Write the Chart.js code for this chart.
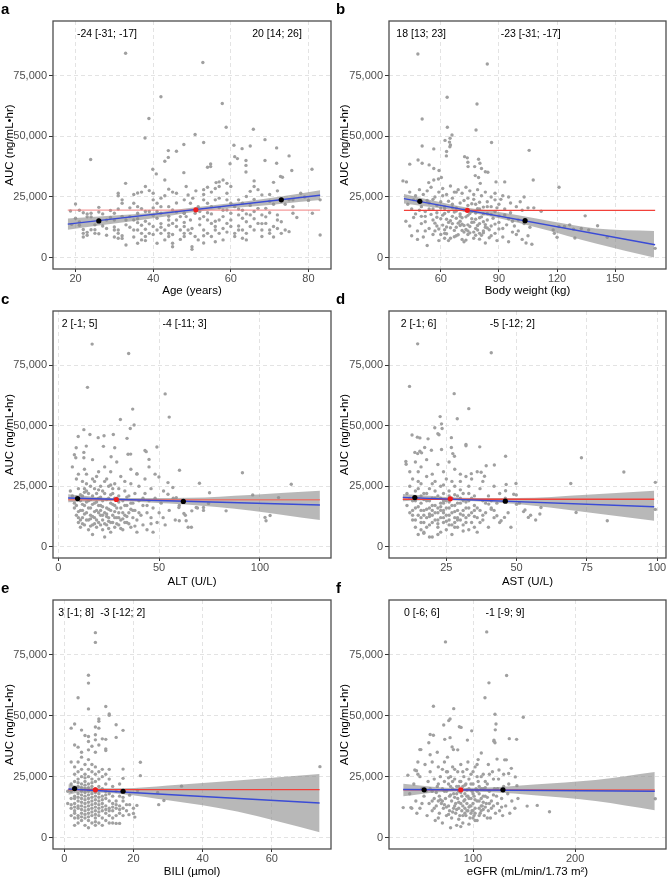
<!DOCTYPE html>
<html>
<head>
<meta charset="utf-8">
<script src="https://cdn.jsdelivr.net/npm/chart.js@4.4.1/dist/chart.umd.min.js"></script>
<style>
  body { margin: 0; background: #fff; }
  #page { position: relative; width: 670px; height: 879px; overflow: hidden; }
  #page canvas { position: absolute; }
</style>
</head>
<body>
<div id="page">
  <canvas id="pa" width="335" height="305" style="left:0;top:0"></canvas>
  <canvas id="pb" width="335" height="305" style="left:335px;top:0"></canvas>
  <canvas id="pc" width="335" height="305" style="left:0;top:290px"></canvas>
  <canvas id="pd" width="335" height="305" style="left:335px;top:290px"></canvas>
  <canvas id="pe" width="335" height="300" style="left:0;top:579px"></canvas>
  <canvas id="pf" width="335" height="300" style="left:335px;top:579px"></canvas>
</div>
<script>
// AUC values are in thousands of ng/mL*hr (the y axis labels multiply back)
const yTicksK = [0, 25, 50, 75];

// ---- a : age
const ageTicks = [20, 40, 60, 80];
const agePoints = [
  [32.9,84.2],[52.8,80.4],[42,66.3],[57.8,63.5],[38.9,57.3],[58.8,53.7],[65.8,52.9],[50.8,50.7],[37.9,49.3],[68.8,48.6],
  [53,47.4],[47.9,46.6],[23.9,40.4],[60.8,46.3],[65,46],[71.8,45.2],[62.9,44.9],[43.9,44.1],[43.9,41.3],[46,43.8],
  [61,41.6],[61.7,40.8],[75,41.9],[43,39.7],[54.8,38.6],[54.8,37.5],[54,37.2],[59.8,38.7],[63.9,40],[68.8,40],
  [71.8,38.9],[63.9,38],[39.9,36.4],[40.8,34.5],[75.7,35.9],[80.9,36.4],[47.9,35],[63.9,35.3],[43,32],[72.8,33.4],
  [73.3,33.1],[32.9,30.6],[56.2,30.9],[57,31.2],[66,31.6],[71,31],
  [18.7,19.2],[20,22.1],[20,16.2],[21,14.7],[21,13.3],[22,18.5],[23,18],[24,18.3],[23,16.8],[24,16.8],
  [22,10],[22,11.6],[23,10.4],[23,9.2],[22,8.5],[25,10],[24,11.5],[25,11.5],[26,20.7],[26,18.8],
  [26,15.5],[27,18],[28,15.5],[28,9.2],[29,19.4],[30,18.3],[30,15.5],[30,11.4],[31,11.4],[31,10],
  [31,26.5],[31,25.5],[32,23.8],[32,22.4],[31,20],[32,17],[33,15.5],[33,5.2],[30,8.5],[31,8],
  [32,9],[32,7.9],[30,12.6],[27,13],[29,16.5],[25,13.5],[19,13.7],[21,19.5],[28,12],[26,9.8],
  [35,26],[36,26.6],[37,27],[35,22.4],[36,21],[37,20.2],[34,16.9],[35,15.5],[36,14.4],[37,13.3],
  [35,11.4],[36,11.4],[37,10],[38,8.7],[39,10],[38,11.7],[36,5.9],[37,7.3],[38,7],[38,29.3],
  [39,27.6],[40,26.5],[40,23.8],[41,22.4],[42,21],[39,19],[40,17.4],[41,16.2],[42,18.3],[39,13.9],
  [40,12.8],[41,11.4],[42,10],[43,11.4],[44,13.3],[41,5.9],[43,7.3],[44,8.7],[45,4.5],[45,5.9],
  [42,24.5],[43,25.5],[44,28.2],[45,27],[46,26.5],[44,21],[45,19.6],[46,18.8],[47,16.9],[48,18.3],
  [44,15.5],[45,14.1],[46,12.8],[47,11.4],[48,10],[48,8.7],[34,12.5],[36,18.3],[38,15],[40,9.5],
  [42,14],[44,17],[46,22.5],
  [48,23.8],[48.5,29.3],[49,25.8],[49.6,22.4],[50.2,24.5],[48,18.3],[48.5,16.9],[49.6,15.5],[50.8,18.3],[51.6,21],
  [48,12.8],[49,11.4],[49.6,10],[50.8,8.7],[51.6,7.3],[50,4.5],[50,3.4],[53,26],[53,28],[54,29],
  [55,27],[56,28.5],[53,23.8],[54,22.4],[55,21],[56,23.8],[53,16.9],[54,15.5],[55,14.1],[56,12.8],
  [57,15.5],[58,16.9],[53,11.4],[54,10],[55,8.7],[56,11.4],[57,10],[58,7.3],[57,29.3],[58,32],
  [59,30.6],[60,29.3],[59,26.5],[59,23.8],[60,22.4],[59,19.6],[60,18.3],[61,21],[59,14.1],[60,12.8],
  [61,10],[61,8.7],[62,11.4],[52,19],[55,18],[57,20.5],[52,13.5],[56,6.5],[53,6],[58,12],
  [62,23.8],[63,22.4],[64,25.2],[65,27.3],[66,29.3],[67,28],[68,25.8],[62,17.6],[63,16.2],[64,14.8],
  [65,17.6],[66,19],[67,20.3],[68,17.6],[62,13],[63,11.4],[64,10],[65,12.8],[66,11.4],[64,7.3],
  [67,14.1],[68,11.4],[69,20.3],[70,23.2],[71,22],[72,17.6],[73,14.8],[74,22],[69,14.1],[70,11.4],
  [71,12.8],[72,15.5],[73,10],[74,11.4],[68,8.7],[70,10],[75,10.7],[75,23.8],[76,23.8],[76,21],
  [76,18.3],[78,26.5],[81,18.3],[83,23.8],[83,9.3],[66,24],[70,26],[72,27.5],[63,19.5],[65,21.5],
  [69,16.8],[77,16.5],[71,8.5],[79,25],[80,23.5],
  [34,20.5],[36,16],[38,19],[40,20.5],[42,12.5],[44,10],[46,15.5],[48,14.5],[50,12],[52,16],
  [54,18.5],[56,15],[58,19.5],[60,15.5],[62,20],[64,18],[66,16],[68,14],[70,18.5],[72,12],
  [45,9.5],[47,7.5],[53,9],[59,10.5],[63,8],[57,24.5],[51,27.5],[41,19],[35,8.5],[33,13.5]
];
const ageFit = [[18,13.8],[83,25.7]];
const ageBandX = [18, 30, 40, 51, 62, 72, 83];
const ageBandLo = [11.5, 14.0, 16.2, 18.9, 20.6, 22.0, 23.7];
const ageBandHi = [16.1, 17.3, 18.5, 20.7, 22.8, 25.0, 27.8];
const ageRef = [[18,19.6],[83,19.6]];
const ageEnds = [[26,15.1],[73,23.8]];
const ageMid = [[51,19.7]];
const ageNotes = ['-24 [-31; -17]', '20 [14; 26]'];
const ageNotesX = [28.1, 71.9];

// ---- b : body weight
const wtTicks = [60, 90, 120, 150];
const wtPoints = [
  [48.2,83.9],[84,79.8],[63.3,66.1],[78.7,63.3],[50.4,57.1],[63.4,53.7],[78.2,52.6],[65.8,50.5],[64.8,49.2],[62.2,48.3],
  [64.5,47.6],[65,46.4],[64.7,45.7],[86.2,47.4],[50.4,46],[56.4,44.8],[105.6,44.2],[63,43.7],[62.9,41.9],[72.3,41.6],
  [73.7,41.1],[74,39.3],[79.5,40.5],[80.2,38.9],[44,38.5],[48.3,40.2],[50.4,38.9],[54,38.2],[74.1,37.5],[77.5,37.5],
  [81,36.7],[56.4,36.7],[59.1,35.9],[83,35.4],[84.3,35.2],[77.8,33.8],[79.5,33],[80.4,30.6],[107.7,32],[40.5,31.6],
  [42.3,31.2],[88.5,31.2],[93,31.2],[121,29],[53.8,30.9],[56.4,32],[58.8,32.4],[60.3,33],
  [44,27],[47,25.5],[49,28],[51,26],[53,27.5],[55,29],[57,25],[59,27],[61,28.5],[63,26],
  [65,29.5],[67,27],[69,28],[71,26.5],[73,29],[75,27.5],[77,26],[79,28],[81,25.5],[83,27],
  [86,25],[88,26.5],[91,24],[95,25],
  [43,22],[45,20],[47,18],[50,21],[52,19],[54,22.5],[56,20],[58,18.5],[60,23],[62,21],
  [64,19],[66,22],[68,20.5],[70,18],[72,23.5],[74,21.5],[76,19],[78,22],[80,20],[82,18],
  [84,23],[86,21],[88,19],[90,22],[93,20],[96,18.5],[99,21],[102,19.5],[105,20.5],
  [42,15],[44,13],[46,16.5],[48,11],[50,14],[52,17],[54,12],[56,15.5],[58,13],[60,16],
  [62,11.5],[64,14.5],[66,17],[68,12.5],[70,15],[72,10.5],[74,13.5],[76,16],[78,12],[80,14],
  [82,11],[84,15.5],[86,13],[88,10],[90,14.5],[92,12],[95,16],[98,13],[100,11],[103,14],[106,12.5],
  [45,9],[48,7.5],[51,8.5],[53,5],[56,9.5],[59,7],[62,10],[65,8],[68,9],[71,7.5],
  [74,9.5],[77,8],[80,10],[83,6],[86,9],[89,7],[92,8.5],[95,6.5],[99,9.5],[102,7.5],
  [105,9],[107,5.5],[104,6],
  [61,17.5],[63,15.8],[65,12.3],[67,18.8],[69,14.2],[71,11.2],[73,16.8],[75,12.8],[77,10.5],[79,13.2],
  [81,16.8],[83,12.5],[85,11.5],[78,9.2],[76,14.5],[72,13.2],[70,22.5],[66,24.5],[62,20.2],[68,19.2],
  [74,24.5],[80,22.8],[82,14.8],[84,18.2],[87,16.2],[58,21.5],[55,17.8],[52,14.8],[49,19.5],[46,23.8],
  [53,23.5],[57,11],[60,9.5],[64,7],[72,6.5],[90,17.2],[94,13.5],[97,10.5],[100,15.5],[96,22.5],
  [92,25.5],[88,23.8],[101,23],[103,25],[108,20.5],
  [57,14.2],[59,11.8],[61,13.4],[63,9.8],[65,15.2],[67,11.2],[69,9.4],[71,13.8],[73,11.6],[75,10.2],
  [77,14.6],[79,11.4],[81,9.2],[83,13.6],[85,8.2],[58,16.6],[60,20.4],[62,18.2],[64,23.2],[66,20.6],
  [68,16.2],[70,13.2],[72,19.6],[74,17.4],[76,22.2],[78,18.4],[80,16.4],[82,20.8],[84,12.2],[86,17.8],
  [63,12.6],[67,8.6],[71,16.4],[75,18.2],[79,20.2],[66,14],[70,17],[74,11],[78,15.8],[82,10.2],
  [54,20],[56,24],[52,11],[50,17],[48,23.5],[88,13.8],[90,11.8],[93,17.6],[61,25.5],[68,27],
  [77,24],[84,21],[73,7.2],[80,7.6],[62,8],[89,20.5],[97,15],
  [111.8,19.1],[118,11.4],[118.6,10],[120,8.4],[121,12.8],[123.8,12.8],[126.5,13.5],[128.5,11.7],[129.2,8.1],[132.5,12],
  [134.5,17.2],[136.3,11.4],[140.9,13.1],[145.9,8.4],[170.6,3.8]
];
const wtFit = [[41,24.3],[170.6,5.3]];
const wtBandX = [41, 60, 74, 90, 110, 140, 170];
const wtBandLo = [22.3, 20.3, 18.7, 16.2, 12.3, 5.8, 0.0];
const wtBandHi = [26.2, 22.8, 20.5, 18.8, 16.0, 12.0, 11.0];
const wtRef = [[41,19.5],[170.6,19.5]];
const wtEnds = [[49.2,23.2],[103.5,15.2]];
const wtMid = [[73.7,19.5]];
const wtNotes = ['18 [13; 23]', '-23 [-31; -17]'];
const wtNotesX = [49.9, 106.4];

// ---- c : ALT
const altTicks = [0, 50, 100];
const altPoints = [
  [16.8,83.8],[34.9,79.9],[14.5,65.9],[53,63.2],[36.9,56.9],[55,53.6],[30.8,52.6],[37.6,50.3],[35.7,48.9],[15.7,46.4],
  [12.7,48.4],[9.9,45.6],[19.8,45.1],[22.7,45.9],[27.3,46.4],[34.1,44.8],[43,39.8],[43.6,39.3],[48.9,41.2],[8.9,40.9],
  [13.9,41.6],[12.7,39],[12.7,36.8],[34.6,38.2],[35.9,38.3],[26.2,37.2],[22.4,41.5],[28,40.9],[45,36.1],[60.1,31.6],
  [91.3,30.6],[115.5,25.8],[70,26.2],[75,22.3],[49.9,28.8],[39,30.2],[8.7,36.8],
  [6,23],[7,21],[8,18],[8,16],[9,28],[9,13],[10,10],[10,24],[11,19],[11,15],
  [11,8],[12,21],[12,12],[12,27],[13,17],[13,9],[14,14],[14,23],[14,30],[15,19],
  [15,11],[15,7],[16,25],[16,16],[16,13],[17,21],[17,9],[17,5],[18,18],[18,27],
  [18,12],[19,15],[19,22],[19,8],[20,20],[20,10],[20,31],[21,13],[21,17],[21,25],
  [22,7],[22,11],[22,19],[23,14],[23,22],[23,4],[24,9],[24,16],[24,28],[25,12],
  [25,20],[25,25],[26,6],[26,15],[26,18],[27,10],[27,22],[27,13],[28,8],[28,17],
  [28,26],[29,12],[29,20],[30,14],[30,9],[30,24],[31,16],[31,11],[31,29],[32,19],
  [32,7],[33,13],[33,23],[34,10],[34,17],[35,21],[35,14],[36,8],[36,26],[37,12],
  [37,18],[38,15],[38,22],[39,6],[39,11],[40,19],[40,25],[41,13],[42,9],[42,17],
  [43,22],[44,14],[44,7],[45,19],[46,12],[46,24],[47,6],[47,16],[48,20],[49,10],
  [50,14],[51,18],[52,12],[53,9],[55,15],[57,20],[58,11],[60,17],[63,13],[66,8],
  [69,16],[72,15],
  [7,33],[8,38],[10,30],[13,32],[17,36],[19,29],[23,33],[26,31],[29,35],[33,27],
  [36,32],[39,30],[43,28],[45,33],[48,30],
  [9,20.5],[10,14.5],[12,17.5],[14,11],[16,19.5],[18,9.5],[20,14],[22,16.5],[24,12.5],[26,21.5],
  [28,14.5],[30,18.5],[32,11.5],[34,20.5],[36,15.5],[13,22.5],[17,12.5],[21,9],[25,7.5],[29,9.5],
  [9,17],[10,12],[11,21.5],[12,9.5],[13,13.5],[14,18.5],[15,16],[16,8.5],[17,17.5],[18,14.5],
  [19,11],[20,17],[21,20.5],[22,13],[23,9.5],[24,19.5],[25,15.5],[26,10],[27,17.5],[28,12],
  [29,16],[30,21],[31,7.5],[32,14],[33,17],[34,12.5],[35,9.5],[36,18],[37,15],[38,8.5],
  [12,15],[15,22],[18,24],[21,15],[24,13.5],[27,24],[30,12],[33,10],[16,11.5],[19,18.5],
  [22,23],[25,10.5],[28,20],[14,26],[17,28],[20,23.5],[23,27],[26,25.5],[11,11],[13,24],
  [40,14],[42,20],[44,17],[46,9.5],
  [54.4,26.5],[56.8,24.5],[52.2,23],[54.4,21.7],[58.5,20.3],[59.8,16.2],[62.3,13.7],[63.4,10.7],[60,10.7],[64.4,8],
  [66.2,14.8],[68.4,16.2],[72,16.2],[74.5,17.9],[83.2,14.8],[96.4,21.4],[102.5,12.1],[103,10.7],[105,12.9],[109.2,20.3]
];
const altFit = [[4.9,20.1],[129.7,17.2]];
const altBandX = [4.9, 15, 29, 45, 65, 95, 129.7];
const altBandLo = [18.4, 18.7, 18.9, 18.3, 17.3, 15.0, 11.0];
const altBandHi = [21.7, 20.9, 20.1, 20.1, 20.2, 21.4, 23.1];
const altRef = [[4.9,19.4],[129.7,19.4]];
const altEnds = [[9.6,19.9],[62,18.7]];
const altMid = [[28.8,19.5]];
const altNotes = ['2 [-1; 5]', '-4 [-11; 3]'];
const altNotesX = [10.6, 62.6];

// ---- d : AST
const astTicks = [25, 50, 75, 100];
const astPoints = [
  [14.8,83.9],[41,80.2],[11.9,66.3],[27.8,63.3],[33,57.1],[28.9,52.9],[22.8,53.8],[23.3,50.8],[20.9,49.2],[23.5,48.9],
  [22,46.7],[22.4,46.3],[12.8,46.2],[14.7,45.3],[26.8,45.1],[18.5,44.6],[15.6,45],[36.9,41.3],[32,42.3],[32,41.7],
  [46.1,37.4],[73.1,36.8],[88.2,30.9],[99.4,26.6],[69.3,26.1],[71.2,14.1],[82.3,10.7],[99.4,15.4],
  [10.6,35.2],[10.7,34.1],[13.8,39],[14.8,38.5],[15.6,39.5],[16.2,38.8],[17.3,41],[19.7,39.9],[23.3,40.2],[26.8,41],
  [27.3,38.5],[27.9,37.4],[37.4,30.8],[38.6,29.1],[33.9,30.2],[39.2,33.5],[42.1,33.8],
  [11,22],[11,17],[12,14],[12,25],[13,19],[13,11],[13,28],[14,16],[14,8],[14,23],
  [15,13],[15,20],[15,31],[16,18],[16,10],[16,26],[17,15],[17,6],[17,22],[18,12],
  [18,19],[18,29],[19,9],[19,16],[19,24],[20,13],[20,20],[20,4],[21,11],[21,17],
  [21,27],[22,8],[22,14],[22,21],[23,12],[23,18],[23,25],[24,10],[24,15],[24,22],
  [25,7],[25,13],[25,19],[25,28],[26,11],[26,16],[26,23],[27,9],[27,14],[27,20],
  [28,12],[28,17],[28,25],[29,8],[29,15],[29,21],[30,11],[30,18],[30,27],[31,13],
  [31,9],[31,22],[32,16],[32,12],[33,19],[33,7],[33,25],[34,14],[34,10],[35,17],
  [35,21],[36,12],[36,6],[37,15],[37,24],[38,11],[38,19],[39,14],[40,8],[40,21],
  [41,16],[42,12],[42,25],[43,18],[44,10],[44,22],
  [12,31],[14,35],[16,33],[18,36],[20,30],[22,34],[24,31],[26,35],[28,32],[30,30],
  [32,29],[34,28],[36,31],[38,27],[15,5],[17,5.5],[19,4],[23,6],[27,5],
  [12,20],[15,24],[19,19],[23,20],[26,21],[30,20],[24,18],[21,23],[17,13],[29,12],
  [33,16],[13,15],[22,16],[26,13],[20,10],[16,15],[28,10],[14,11],[18,8],[24,12],
  [31,15],[35,8],[39,18],[42,15],
  [14,19],[15,16.5],[16,12],[17,19.5],[18,15.5],[19,12.5],[20,17],[21,14],[22,11],[23,15],
  [24,19],[25,16],[26,9],[27,17],[28,14.5],[29,18],[30,13.5],[31,19],[32,10],[33,13],
  [34,20],[35,12.5],[36,16],[37,10],[21,20],[18,22],[15,27],[20,26],[24,25.5],[27,27],
  [30,23.5],[33,22],[16,21],[19,13.5],[22,9.5],[25,10.5],[28,8],[13,13],[17,10],[23,16.5],
  [26,18.5],[29,11],[32,18.5],[35,15],[38,13],[41,19],[20,15],[24,14],[28,21.5],[16,7],
  [22,5],[31,6.5],
  [49.8,26.1],[46.3,25.7],[46.1,23.1],[49,21.7],[49.9,21.4],[53,15.2],[54.2,12.1],[56.8,11],[58.3,13.5],[58.7,16.2],
  [48,8],[44.5,10.7],[45.7,12.1],[43,12.8],[41,15.5],[40.1,17.6],[51,18],[47,14],[55,13],[46,20],
  [50,17.5],[52.5,14.5]
];
const astFit = [[9.5,20.4],[99,16.5]];
const astBandX = [9.5, 20, 26.4, 35, 50, 75, 99];
const astBandLo = [18.8, 19.3, 19.2, 18.8, 17.6, 14.2, 10.7];
const astBandHi = [21.8, 21.0, 20.4, 20.1, 20.1, 21.5, 23.1];
const astRef = [[9.5,19.6],[99,19.6]];
const astEnds = [[13.8,20.3],[46,18.8]];
const astMid = [[26.4,19.8]];
const astNotes = ['2 [-1; 6]', '-5 [-12; 2]'];
const astNotesX = [15.1, 48.5];

// ---- e : bilirubin
const biliTicks = [0, 20, 40, 60];
const biliPoints = [
  [9,84.1],[9,80.1],[7,66.6],[7,63.4],[4,57.4],[7,52.8],[12,53.8],[13,50.7],[13,50.2],[10,48.7],
  [10,47.7],[10,44.9],[2,44.9],[3,46.6],[5,44.1],[15,46.3],[17,44],[9,45.4],[9,42.2],[11,40.5],
  [12,40.3],[7,41.5],[7,39.4],[8,37.5],[4,37.1],[15,41.1],[12,36.4],[12,35.7],[9,40.1],[6,41.9],
  [22,30.9],[22,25.4],[17,28.1],[17,24.3],[33.9,21.1],[27,18.5],[27.3,13.5],[28.8,15.2],[21.2,19.3],[18.9,17.4],
  [18.9,13.5],[18.7,9.4],[20,9.9],[20.4,8.4],[21,13.2],[73.9,29.1],[16,5.8],[15,5.8],
  [1,14],[1,19],
  [2,9],[2,12],[2,16],[2,19],[2,22],[2,31],[2,13.5],
  [3,5],[3,8],[3,11],[3,14],[3,17],[3,20],[3,23],[3,26],[3,29],[3,38],[3,10],[3,16],
  [4,6],[4,9],[4,12],[4,15],[4,18],[4,21],[4,24],[4,27],[4,31],[4,13],[4,22.5],[4,8],
  [5,7],[5,10],[5,13],[5,16],[5,19],[5,22],[5,25],[5,28],[5,33],[5,35],[5,11.5],[5,20.5],[5,14.5],
  [6,5],[6,8],[6,11],[6,14],[6,17],[6,20],[6,23],[6,26],[6,30],[6,12.5],[6,18.5],[6,9.5],[6,15.5],
  [7,4],[7,7],[7,10],[7,13],[7,16],[7,19],[7,22],[7,25],[7,28],[7,32],[7,36],[7,11.5],[7,17.5],[7,14.5],
  [8,6],[8,9],[8,12],[8,15],[8,18],[8,21],[8,24],[8,27],[8,13.5],[8,10.5],[8,16.5],[8,30],
  [9,5],[9,8],[9,11],[9,14],[9,17],[9,20],[9,23],[9,26],[9,29],[9,35],[9,12.5],[9,15.5],[9,9.5],
  [10,6],[10,9],[10,12],[10,15],[10,18],[10,21],[10,24],[10,27],[10,13.5],[10,10.5],[10,38],
  [11,5],[11,8],[11,11],[11,14],[11,17],[11,20],[11,25],[11,12.5],[11,28],
  [12,7],[12,10],[12,13],[12,16],[12,19],[12,22],[12,26],[12,11.5],
  [13,6],[13,9],[13,12],[13,15],[13,18],[13,24],[13,28],[13,11],
  [14,8],[14,11],[14,14],[14,17],[14,21],[14,12.5],[14,6],
  [15,9],[15,12],[15,15],[15,19],[15,13.5],
  [16,10],[16,13],[16,17],[16,22],[16,11.5],
  [17,9],[17,12],[17,15],[17,16.5],
  [18,11],[18,13.5],[20,12],
  [5,17.5],[6,21.5],[7,20.5],[8,19.5],[9,18.5],[10,16.5],[4,16.5],[3,12.5],[11,15.5],[12,17.5],
  [6,24.5],[8,22.5],[9,6.5],[5,8.5],[7,8.5]
];
const biliFit = [[1.2,19.9],[73.8,14.2]];
const biliBandX = [1.2, 5, 9, 17, 30, 50, 73.8];
const biliBandLo = [17.6, 18.5, 18.5, 17.8, 15.3, 10.7, 2.2];
const biliBandHi = [21.9, 21.0, 20.3, 20.2, 21.4, 23.4, 26.1];
const biliRef = [[1.2,19.7],[73.8,19.7]];
const biliEnds = [[3,20.1],[17,19.0]];
const biliMid = [[9,19.6]];
const biliNotes = ['3 [-1; 8]', '-3 [-12; 2]'];
const biliNotesX = [3.4, 16.9];

// ---- f : eGFR
const egfrTicks = [100, 200];
const egfrPoints = [
  [113.4,84.4],[73,80.3],[132.9,66.5],[115.6,63.5],[111.7,57.4],[61.2,53.9],[81.1,52.9],[121.5,50.6],[149.2,49.4],[77.5,48.7],
  [76.2,48],[122.5,46.6],[71.3,46.2],[86.6,45.5],[88.3,45.2],[98.7,43.8],[121.8,44.2],[58,42.3],[61.2,42],[120.5,40],
  [120.5,39.5],[135.5,40.6],[142.7,40.3],[77.5,41],[48.9,36.1],[56.7,38.9],[94.5,40],[72.3,40.3],[79.5,37.2],[80.8,36.1],
  [108.1,34.7],[121.5,38.9],[123.5,32.2],[131,31.9],[132.6,31.9],[125.4,27.7],[137.5,28.4],[134.9,26.3],[141.4,24.9],[143,21.3],
  [162.9,13.2],[153,12.9],[174.9,10.6],[278.5,15.9],
  [31.6,12.3],[39.1,12.3],[36.2,25.6],[43,27.7],[44.6,27.4],[47.9,36.1],
  [38,18],[42,22],[44,15],[46,26],[48,12],[50,20],[52,17],[53,30],[55,9],[56,23],
  [57,14],[58,27],[60,11],[60,19],[62,16],[62,24],[63,7],[64,13],[65,21],[66,29],
  [67,10],[67,17],[68,25],[69,14],[70,6],[70,20],[71,12],[72,23],[72,31],[73,16],
  [74,9],[74,19],[75,27],[76,13],[76,22],[77,11],[77,17],[78,25],[79,8],[79,15],
  [80,20],[80,29],[81,12],[81,18],[82,24],[83,10],[83,14],[84,21],[84,5],[85,16],
  [85,27],[86,12],[86,19],[87,9],[87,23],[88,14],[88,30],[89,17],[89,11],[90,21],
  [90,6],[91,15],[91,25],[92,12],[92,18],[93,9],[93,22],[94,14],[94,28],[95,17],
  [95,11],[96,20],[96,24],[97,13],[97,8],[98,16],[98,26],[99,11],[99,19],[100,14],
  [100,22],[101,9],[101,17],[102,12],[102,29],[103,20],[104,15],[104,7],[105,23],[106,12],
  [106,18],[107,10],[108,16],[108,25],[109,13],[110,20],[111,9],[112,17],[113,14],[114,22],
  [115,11],[116,19],[117,8],[118,15],[119,27],[120,13],[121,20],[122,10],[123,17],[124,14],
  [125,24],[126,11],[128,16],[129,9],[130,21],[132,13],[134,18],[136,10],[138,15],[141,12],
  [144,16],[58,34],[65,35],[75,33],[85,36],[95,31],[105,32],[115,30],[78,4],[88,4.5],
  [96,5.5],[66,8],[104,30],[60,31],[70,28],[100,27],[110,26],[120,24],[130,26],[135,22],
  [40,12],[50,14],[48,25],[54,19],[46,31],[45,10],
  [68,15.5],[72,13.5],[76,9.5],[82,16.5],[86,7.5],[90,13],[94,19.5],[98,10],[102,15.5],[106,21],
  [110,11.5],[114,16.5],[118,12],[64,18.5],[78,21],[84,11.5],[92,15.5],[100,8],[108,13],[112,20.5],
  [70,15],[74,12.5],[78,17.5],[80,10.5],[82,13],[86,14.5],[88,18.5],[90,9],[92,21.5],[94,11],
  [96,16],[98,13],[100,18],[102,10],[104,19],[106,15],[108,11],[110,17],[112,12.5],[114,8],
  [116,14],[62,12],[66,15],[72,19],[76,24.5],[80,23],[84,18],[88,23],[92,10],[96,12.5],
  [100,11],[104,25],[108,20],[112,23],[116,26],[120,17.5],[124,20],[128,12.5],[66,22],[60,15],
  [58,20],[74,27],[82,28],[90,27],[98,22],[106,9],[110,14.5],[86,21],[94,17],[102,7]
];
const egfrFit = [[31.6,19.7],[278,19.0]];
const egfrBandX = [31.6, 60, 88, 120, 160, 220, 278];
const egfrBandLo = [16.9, 18.4, 18.9, 18.6, 17.4, 15.0, 11.2];
const egfrBandHi = [22.1, 20.9, 20.3, 20.6, 21.8, 23.6, 26.9];
const egfrRef = [[31.6,19.6],[278,19.6]];
const egfrEnds = [[52.1,19.6],[129.3,19.6]];
const egfrMid = [[88,19.6]];
const egfrNotes = ['0 [-6; 6]', '-1 [-9; 9]'];
const egfrNotesX = [49.8, 131.3];

// panel setup (data comes from the arrays above)
const panels = [
  { id: 'pa', letter: 'a', title: 'Age (years)', xMin: 14.2, xMax: 85.8, ticks: ageTicks, pts: agePoints, fit: ageFit,
    bx: ageBandX, lo: ageBandLo, hi: ageBandHi, ref: ageRef, ends: ageEnds, mid: ageMid, notes: ageNotes, notesX: ageNotesX,
    refColor: 'rgba(240,120,120,0.75)', axisH: 36, titlePad: 7 },
  { id: 'pb', letter: 'b', title: 'Body weight (kg)', xMin: 33.3, xMax: 176.2, ticks: wtTicks, pts: wtPoints, fit: wtFit,
    bx: wtBandX, lo: wtBandLo, hi: wtBandHi, ref: wtRef, ends: wtEnds, mid: wtMid, notes: wtNotes, notesX: wtNotesX,
    refColor: '#f2413a', axisH: 36, titlePad: 7 },
  { id: 'pc', letter: 'c', title: 'ALT (U/L)', xMin: -2.6, xMax: 135.2, ticks: altTicks, pts: altPoints, fit: altFit,
    bx: altBandX, lo: altBandLo, hi: altBandHi, ref: altRef, ends: altEnds, mid: altMid, notes: altNotes, notesX: altNotesX,
    refColor: 'rgba(236,110,100,0.85)', axisH: 37, titlePad: 6 },
  { id: 'pd', letter: 'd', title: 'AST (U/L)', xMin: 4.6, xMax: 103.2, ticks: astTicks, pts: astPoints, fit: astFit,
    bx: astBandX, lo: astBandLo, hi: astBandHi, ref: astRef, ends: astEnds, mid: astMid, notes: astNotes, notesX: astNotesX,
    refColor: '#f2413a', axisH: 37, titlePad: 6 },
  { id: 'pe', letter: 'e', title: 'BILI (\u00b5mol)', xMin: -3.25, xMax: 77.1, ticks: biliTicks, pts: biliPoints, fit: biliFit,
    bx: biliBandX, lo: biliBandLo, hi: biliBandHi, ref: biliRef, ends: biliEnds, mid: biliMid, notes: biliNotes, notesX: biliNotesX,
    refColor: '#f2413a', axisH: 30, titlePad: 0 },
  { id: 'pf', letter: 'f', title: 'eGFR (mL/min/1.73 m\u00b2)', xMin: 17.7, xMax: 289, ticks: egfrTicks, pts: egfrPoints, fit: egfrFit,
    bx: egfrBandX, lo: egfrBandLo, hi: egfrBandHi, ref: egfrRef, ends: egfrEnds, mid: egfrMid, notes: egfrNotes, notesX: egfrNotesX,
    refColor: 'rgba(242,65,58,0.8)', axisH: 30, titlePad: 0 }
];

const FONT = '"Liberation Sans", Arial, Helvetica, sans-serif';

// frame, panel letter and the two estimate labels
const decoPlugin = {
  id: 'deco',
  afterDatasetsDraw(chart, args, opts) {
    const ctx = chart.ctx;
    const area = chart.chartArea;
    const xs = chart.scales.x, ys = chart.scales.y;
    ctx.save();
    ctx.fillStyle = '#000';
    ctx.font = '10.5px ' + FONT;
    ctx.textAlign = 'center';
    ctx.textBaseline = 'middle';
    opts.notes.forEach(function (txt, i) {
      ctx.fillText(txt, xs.getPixelForValue(opts.at[i]), ys.getPixelForValue(92));
    });
    ctx.strokeStyle = '#4d4d4d';
    ctx.lineWidth = 1.3;
    ctx.strokeRect(area.left, area.top, area.right - area.left, area.bottom - area.top);
    ctx.restore();
  },
  afterDraw(chart, args, opts) {
    const ctx = chart.ctx;
    ctx.save();
    ctx.fillStyle = '#000';
    ctx.font = 'bold 15px ' + FONT;
    ctx.textAlign = 'left';
    ctx.textBaseline = 'alphabetic';
    ctx.fillText(opts.letter, 1, 14);
    ctx.restore();
  }
};

function pairsFromBand(xs, ys) {
  return xs.map(function (x, i) { return [x, ys[i]]; });
}

function drawPanel(p) {
  const ctx = document.getElementById(p.id);
  new Chart(ctx, {
    type: 'scatter',
    data: {
      datasets: [
        { data: p.ends, backgroundColor: '#000', pointRadius: 2.6, borderWidth: 0 },
        { data: p.mid, backgroundColor: '#f01e1e', pointRadius: 2.6, borderWidth: 0 },
        { type: 'line', data: p.fit, borderColor: '#3a4bd6', borderWidth: 1.4, pointRadius: 0, fill: false },
        { type: 'line', data: p.ref, borderColor: p.refColor, borderWidth: 1.3, pointRadius: 0, fill: false },
        { type: 'line', data: pairsFromBand(p.bx, p.hi), borderWidth: 0, pointRadius: 0,
          cubicInterpolationMode: 'monotone', fill: '+1', backgroundColor: 'rgba(140,140,140,0.62)' },
        { type: 'line', data: pairsFromBand(p.bx, p.lo), borderWidth: 0, pointRadius: 0,
          cubicInterpolationMode: 'monotone', fill: false },
        { data: p.pts, backgroundColor: '#a0a0a0', pointRadius: 1.7, borderWidth: 0 }
      ]
    },
    options: {
      responsive: false,
      animation: false,
      events: [],
      devicePixelRatio: 1,
      layout: { padding: { top: 21, right: 3, left: 0, bottom: 0 } },
      plugins: {
        legend: { display: false },
        tooltip: { enabled: false },
        deco: { letter: p.letter, notes: p.notes, at: p.notesX }
      },
      scales: {
        x: {
          type: 'linear', min: p.xMin, max: p.xMax,
          afterBuildTicks: function (s) { s.ticks = p.ticks.map(function (v) { return { value: v }; }); },
          afterFit: function (s) { s.height = p.axisH; },
          grid: { color: '#dcdcdc', lineWidth: 0.8, tickColor: '#333', tickLength: 3, tickWidth: 1 },
          border: { display: false, dash: [4, 3] },
          ticks: { color: '#4d4d4d', font: { family: FONT, size: 11 }, padding: 0, maxRotation: 0 },
          title: { display: true, text: p.title, color: '#000', font: { family: FONT, size: 11.5 },
                   padding: { top: 0, bottom: p.titlePad } }
        },
        y: {
          type: 'linear', min: -4.7, max: 97.5,
          afterBuildTicks: function (s) { s.ticks = yTicksK.map(function (v) { return { value: v }; }); },
          afterFit: function (s) { s.width = p.id === 'pa' || p.id === 'pc' || p.id === 'pe' ? 53 : 54; },
          grid: { color: '#dcdcdc', lineWidth: 0.8, tickColor: '#333', tickLength: 4, tickWidth: 1 },
          border: { display: false, dash: [4, 3] },
          ticks: {
            color: '#4d4d4d', font: { family: FONT, size: 11 }, padding: 2,
            callback: function (v) { return (v * 1000).toLocaleString('en-US'); }
          },
          title: { display: true, text: 'AUC (ng/mL\u2022hr)', color: '#000', font: { family: FONT, size: 11.5 },
                   padding: { top: 3, bottom: 0 } }
        }
      }
    },
    plugins: [decoPlugin]
  });
}

panels.forEach(drawPanel);
</script>
</body>
</html>
